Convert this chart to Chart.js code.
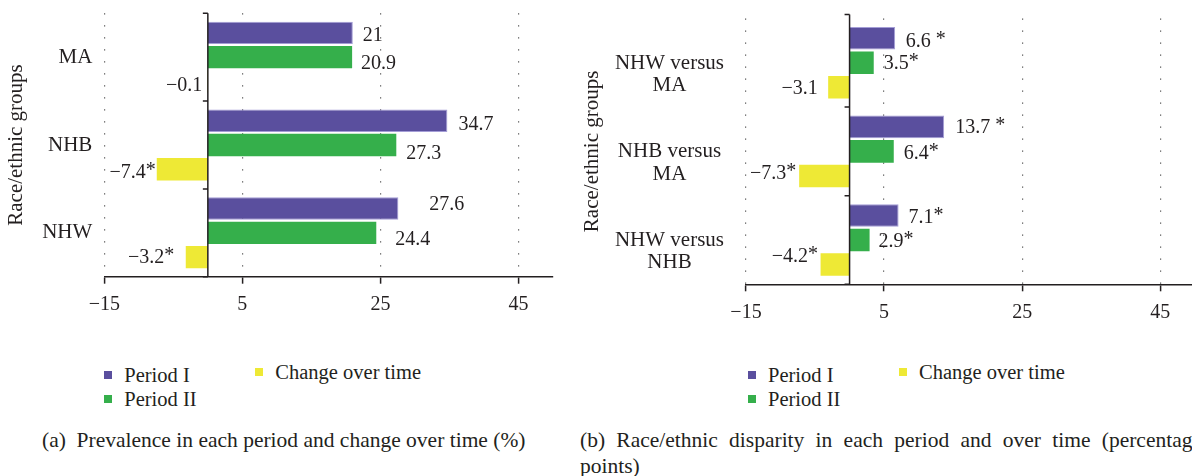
<!DOCTYPE html>
<html>
<head>
<meta charset="utf-8">
<script src="https://cdn.jsdelivr.net/npm/chart.js@4.4.1/dist/chart.umd.min.js"></script>
<style>
    body {
        margin: 0;
        width: 1192px;
        height: 476px;
        overflow: hidden;
        position: relative;
        background: #fff;
        font-family: 'Liberation Serif', serif;
        color: #231f20;
    }
    .panel {
        position: absolute;
        top: 0;
    }
    #panelA { left: 0; }
    #panelB { left: 560px; }
    .legend {
        position: absolute;
        top: 363px;
        margin: 0;
        padding: 0;
        list-style: none;
        display: grid;
        grid-template-columns: 151px auto;
        grid-template-rows: 24px 24px;
        grid-auto-flow: column;
        font-size: 20.5px;
        white-space: nowrap;
    }
    .legend li {
        display: flex;
        align-items: center;
        height: 24px;
    }
    .legend li:last-child {
        margin-top: -3px;
    }
    .legend .square {
        display: inline-block;
        width: 8px;
        height: 8px;
        margin-right: 12px;
    }
    .caption {
        position: absolute;
        top: 427px;
        font-size: 21.5px;
        line-height: 26px;
        white-space: pre;
    }
    #captionA { left: 42px; }
    #captionB { left: 580px; width: 622px; white-space: normal; }
    #captionB .first {
        text-align: justify;
        text-align-last: justify;
        white-space: nowrap;
    }
</style>
</head>
<body>
<div class="panel" id="panelA"><canvas id="chartA" width="560" height="340"></canvas></div>
<div class="panel" id="panelB"><canvas id="chartB" width="640" height="340"></canvas></div>
<ul class="legend" id="legendA"></ul>
<ul class="legend" id="legendB"></ul>
<div class="caption" id="captionA">(a)  Prevalence in each period and change over time (%)</div>
<div class="caption" id="captionB"><div class="first">(b) Race/ethnic disparity in each period and over time (percentage</div><div>points)</div></div>

<script>
// Data

const xTicks = [-15, 5, 25, 45];

// (a) prevalence, %
const groupsA = ['MA', 'NHB', 'NHW'];
const periodOneA = [21, 34.7, 27.6];
const periodTwoA = [20.9, 27.3, 24.4];
const changeA = [-0.1, -7.4, -3.2];
const periodOneStarsA = ['', '', ''];
const periodTwoStarsA = ['', '', ''];
const changeStarsA = ['', '*', '*'];

// (b) disparity, percentage points
const groupsB = [['NHW versus', 'MA'], ['NHB versus', 'MA'], ['NHW versus', 'NHB']];
const periodOneB = [6.6, 13.7, 7.1];
const periodTwoB = [3.5, 6.4, 2.9];
const changeB = [-3.1, -7.3, -4.2];
const periodOneStarsB = [' *', ' *', '*'];
const periodTwoStarsB = ['*', '*', '*'];
const changeStarsB = ['', '*', '*'];

// label nudges [dx, dy] in px (the source figure places them by hand)
const nudgeA = [
    [[0, 1], [1, 2], [21, -6]],
    [[-1, 4.5], [0, 7], [9, 5]],
    [[-2, 2], [2, 1], [-8.5, -1]],
];
const nudgeB = [
    [[0.5, 1], [1, -1.5], [0, 0]],
    [[0, -1], [0, 0.5], [-1, -0.5]],
    [[-7.5, -1], [0, -4], [0.5, -9.5]],
];

const ink = '#231f20';
const serif = "'Liberation Serif', serif";
const purple = '#5a4f9e';
const green = '#35af4b';
const yellow = '#eee935';

// draws the vertical axis at x = 0 with ticks between groups
const zeroAxis = {
    id: 'zeroAxis',
    afterDatasetsDraw(chart, args, opts) {
        const { ctx, chartArea, scales } = chart;
        const px = scales.x.getPixelForValue(0);
        ctx.save();
        ctx.strokeStyle = ink;
        ctx.lineWidth = 1.5;
        ctx.beginPath();
        ctx.moveTo(px, chartArea.top - opts.lead);
        ctx.lineTo(px, chartArea.bottom);
        ctx.moveTo(px - 5, chartArea.top - opts.lead);
        ctx.lineTo(px, chartArea.top - opts.lead);
        for (let i = 1; i <= scales.y.ticks.length; i++) {
            const py = scales.y.getPixelForValue(i - 0.5);
            ctx.moveTo(px - 5, py);
            ctx.lineTo(px, py);
        }
        ctx.stroke();
        ctx.restore();
    },
};

const valueLabels = {
    id: 'valueLabels',
    afterDatasetsDraw(chart) {
        const ctx = chart.ctx;
        ctx.save();
        ctx.font = '20px ' + serif;
        ctx.fillStyle = ink;
        ctx.textAlign = 'left';
        ctx.textBaseline = 'middle';
        chart.data.datasets.forEach((ds, di) => {
            chart.getDatasetMeta(di).data.forEach((bar, i) => {
                const v = ds.data[i];
                const num = (v < 0 ? '\u2212' : '') + Math.abs(v);
                const star = ds.stars[i];
                const [dx, dy] = ds.nudge[i];
                const numW = ctx.measureText(num).width;
                const starW = ctx.measureText(star).width;
                let x0;
                if (v >= 0) {
                    x0 = bar.x + 10 + dx;
                } else {
                    x0 = bar.x - 3 + dx - numW - starW;
                }
                const y = bar.y + dy + 2;
                ctx.fillText(num, x0, y);
                if (star) ctx.fillText(star, x0 + numW, y - 2);
            });
        });
        ctx.restore();
    },
};

function makeChart(canvas, cfg) {
    return new Chart(canvas, {
        type: 'bar',
        data: {
            labels: cfg.labels,
            datasets: [
                {
                    label: 'Period I',
                    data: cfg.one,
                    stars: cfg.oneStars,
                    nudge: cfg.nudge[0],
                    backgroundColor: purple,
                    borderColor: '#a49dd6',
                    borderWidth: 1,
                },
                {
                    label: 'Period II',
                    data: cfg.two,
                    stars: cfg.twoStars,
                    nudge: cfg.nudge[1],
                    backgroundColor: green,
                    borderWidth: 0,
                },
                {
                    label: 'Change over time',
                    data: cfg.change,
                    stars: cfg.changeStars,
                    nudge: cfg.nudge[2],
                    backgroundColor: yellow,
                    borderWidth: 0,
                },
            ],
        },
        options: {
            indexAxis: 'y',
            responsive: false,
            animation: false,
            categoryPercentage: 0.83,
            barPercentage: 0.92,
            layout: {
                padding: cfg.padding,
            },
            plugins: {
                legend: { display: false },
                tooltip: { enabled: false },
                zeroAxis: { lead: cfg.axisLead },
            },
            scales: {
                x: {
                    type: 'linear',
                    min: -15,
                    max: 50,
                    afterBuildTicks: (scale) => {
                        scale.ticks = xTicks.map((v) => ({ value: v }));
                    },
                    afterFit: (scale) => {
                        scale.height = cfg.xHeight;
                        scale.paddingLeft = 0;
                        scale.paddingRight = 0;
                    },
                    border: { display: true, color: ink, width: 1.5, dash: [1.2, 10.8] },
                    grid: {
                        color: '#555',
                        lineWidth: 1.2,
                        drawTicks: true,
                        tickLength: 7,
                        tickColor: ink,
                        tickWidth: 1.5,
                        tickBorderDash: [],
                    },
                    ticks: {
                        color: ink,
                        padding: 9,
                        font: { family: serif, size: 20 },
                        callback: (v) => (v < 0 ? '\u2212' + Math.abs(v) : '' + v),
                    },
                },
                y: {
                    type: 'category',
                    position: 'left',
                    afterFit: (scale) => {
                        scale.width = cfg.yWidth;
                        scale.paddingTop = 0;
                        scale.paddingBottom = 0;
                    },
                    border: { display: false },
                    grid: { display: false, drawTicks: false },
                    ticks: {
                        color: ink,
                        padding: cfg.labelPadding,
                        crossAlign: cfg.crossAlign,
                        labelOffset: cfg.labelOffset,
                        font: { family: serif, size: 21, lineHeight: 1.07 },
                    },
                    title: {
                        display: true,
                        text: 'Race/ethnic groups',
                        color: ink,
                        padding: { top: 4, bottom: 0 },
                        font: { family: serif, size: 21 },
                    },
                },
            },
        },
        plugins: [zeroAxis, valueLabels],
    });
}

const legendCallback = function (chart) {
    return chart.data.datasets
        .map(
            (ds) => `
        <li><span class="square" style="background-color: ${ds.backgroundColor};"></span><span class="labels">${ds.label}</span></li>`
        )
        .join('');
};

const chartA = makeChart(document.getElementById('chartA'), {
    labels: groupsA,
    one: periodOneA,
    two: periodTwoA,
    change: changeA,
    oneStars: periodOneStarsA,
    twoStars: periodTwoStarsA,
    changeStars: changeStarsA,
    nudge: nudgeA,
    padding: { top: 13.3, right: 7, left: 0, bottom: 0 },
    axisLead: 0,
    xHeight: 63.3,
    yWidth: 104.3,
    labelPadding: 12,
    crossAlign: 'near',
    labelOffset: 0,
});

const chartB = makeChart(document.getElementById('chartB'), {
    labels: groupsB,
    one: periodOneB,
    two: periodTwoB,
    change: changeB,
    oneStars: periodOneStarsB,
    twoStars: periodTwoStarsB,
    changeStars: changeStarsB,
    nudge: nudgeB,
    padding: { top: 18.5, right: 5.2, left: 15.7, bottom: 0 },
    axisLead: 4,
    xHeight: 55.7,
    yWidth: 170.3,
    labelPadding: 22,
    crossAlign: 'center',
    labelOffset: 11.5,
});

const legendA = document.getElementById('legendA');
legendA.innerHTML = legendCallback(chartA);
legendA.style.left = chartA.chartArea.left + 'px';

const legendB = document.getElementById('legendB');
legendB.innerHTML = legendCallback(chartB);
legendB.style.left = 560 + chartB.chartArea.left + 2 + 'px';
</script>
</body>
</html>
